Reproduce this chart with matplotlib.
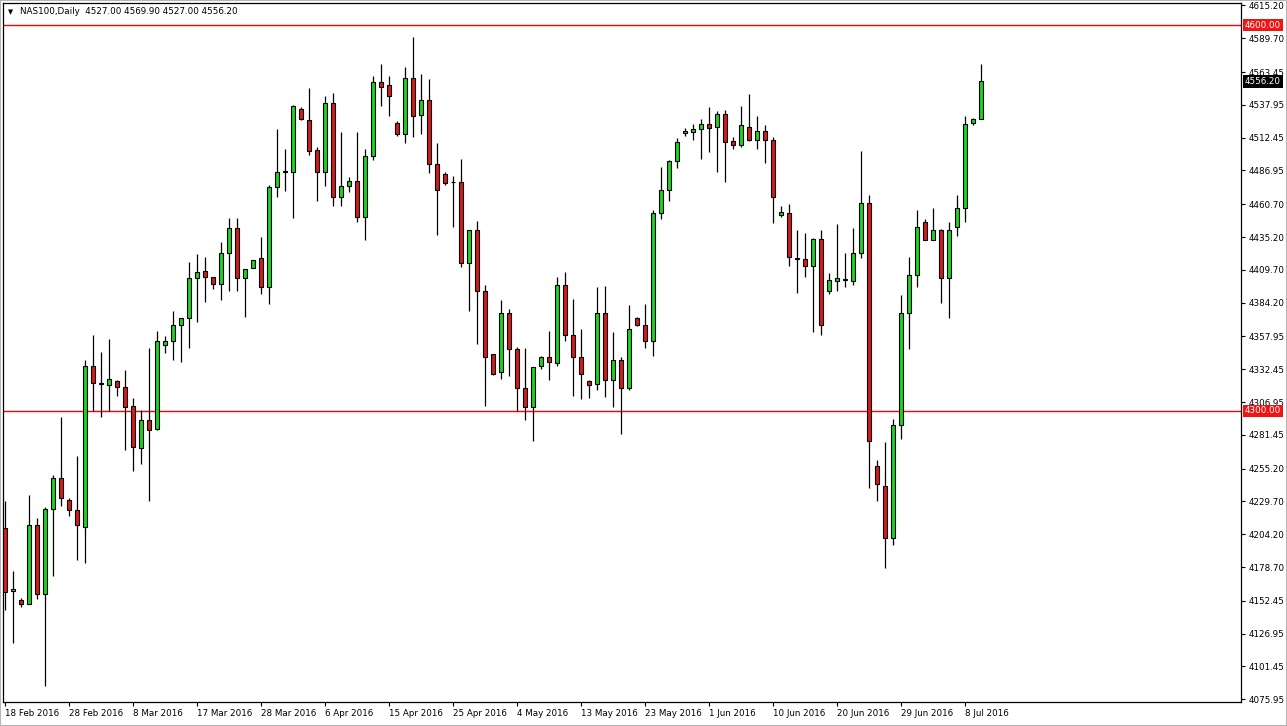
import matplotlib
matplotlib.use('Agg')
import matplotlib.pyplot as plt

# NAS100 daily candles (18 Feb 2016 .. 11 Jul 2016)
opens = [4209, 4160, 4153, 4150, 4211, 4158, 4224, 4248, 4231, 4223,
         4210, 4335, 4321, 4320, 4323, 4319, 4304, 4271, 4293, 4286,
         4351, 4354, 4367, 4372, 4403, 4409, 4404, 4399, 4423, 4442,
         4403, 4411, 4419, 4396, 4474, 4486, 4486, 4535, 4526, 4503,
         4486, 4539, 4466, 4475, 4479, 4451, 4498, 4556, 4553, 4524,
         4515, 4559, 4530, 4542, 4492, 4484, 4478, 4478, 4415, 4441,
         4393, 4344, 4330, 4376, 4348, 4318, 4303, 4335, 4342, 4337,
         4398, 4359, 4342, 4323, 4321, 4376, 4324, 4340, 4318, 4372,
         4367, 4354, 4454, 4472, 4494, 4516, 4517, 4519, 4523, 4521,
         4531, 4510, 4507, 4521, 4511, 4518, 4511, 4452, 4454, 4418.5,
         4418, 4413, 4434, 4393, 4401, 4402, 4401, 4423, 4462, 4257,
         4242, 4201, 4289, 4376, 4406, 4447, 4433, 4441, 4403, 4443,
         4458, 4524, 4527.0]
highs = [4230, 4176, 4155, 4235, 4217, 4225, 4250, 4295, 4232, 4265,
         4340, 4359, 4346, 4356, 4324, 4332, 4310, 4301, 4349, 4362,
         4358, 4378, 4372, 4416, 4422, 4420, 4404.5, 4431, 4450, 4450,
         4410, 4417, 4435, 4476, 4519, 4504, 4538, 4536, 4551, 4505,
         4545, 4547, 4517, 4482, 4517, 4504, 4560, 4570, 4560, 4525,
         4567, 4591, 4562, 4558, 4508, 4486, 4483, 4496, 4441, 4448,
         4398, 4344.5, 4386, 4379, 4350, 4349, 4334.5, 4342.5, 4362, 4404,
         4408, 4387, 4364, 4324, 4396, 4397, 4361, 4342, 4382, 4373,
         4383, 4456, 4490, 4495, 4512, 4520, 4523, 4527, 4536, 4533,
         4534, 4513, 4537, 4546, 4529, 4522, 4513, 4459, 4461, 4441,
         4438, 4434.5, 4441, 4407, 4445, 4423, 4442, 4502, 4468, 4262,
         4276, 4294, 4390, 4420, 4456, 4449, 4458, 4441.5, 4447, 4468,
         4529, 4528, 4569.9]
lows = [4145, 4120, 4148, 4150, 4154, 4086, 4172, 4226, 4218, 4184,
        4182, 4300, 4295, 4300, 4312, 4270, 4253, 4259, 4230, 4285,
        4345, 4340, 4338, 4349, 4369, 4385, 4395, 4386, 4393, 4393,
        4373, 4411, 4391, 4383, 4466, 4471, 4450, 4526, 4499, 4463,
        4475, 4459, 4459, 4470, 4447, 4433, 4495, 4537, 4529, 4514,
        4508, 4513, 4515, 4485, 4437, 4476, 4443, 4412, 4378, 4352,
        4304, 4328, 4325, 4327, 4300, 4293, 4277, 4333, 4324, 4335,
        4354, 4312, 4309, 4310, 4316, 4311, 4303, 4282, 4316, 4366,
        4349, 4343, 4449, 4463, 4489, 4514, 4511, 4496, 4501, 4486,
        4478, 4504, 4505, 4510, 4504, 4493, 4446, 4451, 4413, 4392,
        4404, 4361, 4359, 4391, 4393, 4396, 4398, 4419, 4240, 4230,
        4178, 4196, 4278, 4348, 4396, 4433, 4433, 4384, 4372, 4436,
        4447, 4522, 4527.0]
closes = [4159, 4162, 4150, 4211, 4158, 4224, 4248, 4232, 4223, 4211,
          4335, 4322, 4321, 4325, 4319, 4303, 4272, 4293, 4285, 4354,
          4354, 4367, 4372, 4403, 4408, 4404, 4399, 4423, 4442, 4403,
          4410, 4417, 4396, 4474, 4486, 4486.5, 4537, 4527, 4502, 4486,
          4539, 4466, 4475, 4479, 4451, 4498, 4556, 4552, 4545, 4515,
          4559, 4529, 4542, 4492, 4472, 4477, 4477.6, 4415, 4441, 4393,
          4342, 4329, 4376, 4348, 4318, 4303, 4334, 4342, 4338, 4398,
          4359, 4342, 4329, 4320, 4376, 4324, 4340, 4318, 4364, 4367,
          4354, 4454, 4472, 4494, 4509, 4518, 4519, 4523, 4520, 4531,
          4509, 4507, 4522, 4511, 4518, 4511, 4466, 4455, 4420, 4418.5,
          4413, 4434, 4367, 4402, 4403, 4402, 4423, 4462, 4277, 4243,
          4201, 4289, 4376, 4406, 4443, 4433, 4441, 4403, 4441, 4458,
          4523, 4527, 4556.2]

date_labels = ['18 Feb 2016', '28 Feb 2016', '8 Mar 2016', '17 Mar 2016',
               '28 Mar 2016', '6 Apr 2016', '15 Apr 2016', '25 Apr 2016',
               '4 May 2016', '13 May 2016', '23 May 2016', '1 Jun 2016',
               '10 Jun 2016', '20 Jun 2016', '29 Jun 2016', '8 Jul 2016']
label_step = 8

price_ticks = [4615.20, 4589.70, 4563.45, 4537.95, 4512.45, 4486.95, 4460.70,
               4435.20, 4409.70, 4384.20, 4357.95, 4332.45, 4306.95, 4281.45,
               4255.20, 4229.70, 4204.20, 4178.70, 4152.45, 4126.95, 4101.45,
               4075.95]
levels = [4600.00, 4300.00]
last_price = 4556.20

FS = 6.3
W, H = 1287, 726
fig = plt.figure(figsize=(W / 100, H / 100), dpi=100)
fig.patch.set_facecolor('white')
ax = fig.add_axes([3 / W, 1 - 702 / H, 1238 / W, 699 / H])

n = len(opens)
xs = list(range(n))
up = [c >= o for o, c in zip(opens, closes)]
body_bottom = [min(o, c) for o, c in zip(opens, closes)]
body_height = [max(abs(c - o), 0.4) for o, c in zip(opens, closes)]
colors = ['#22d022' if u else '#d41c1c' for u in up]

ax.vlines(xs, lows, highs, color='black', lw=0.9, zorder=2)
ax.bar(xs, body_height, bottom=body_bottom, width=0.6, color=colors,
       edgecolor='black', linewidth=0.8, zorder=3)

for lv in levels:
    ax.axhline(lv, color='red', lw=1.0, zorder=1)

ax.set_xlim(-0.25, 154.5)
ax.set_ylim(4073.8, 4617.1)

ax.yaxis.tick_right()
ax.set_yticks(price_ticks)
ax.set_yticklabels([f'{v:.2f}' for v in price_ticks])
ax.tick_params(axis='y', direction='out', length=3, width=0.8, pad=2.5,
               labelsize=FS, colors='black')

xt = list(range(0, n, label_step))
ax.set_xticks(xt)
ax.set_xticklabels(date_labels[:len(xt)], ha='left')
ax.tick_params(axis='x', direction='out', length=3, width=0.8, pad=2,
               labelsize=FS)

for sp in ax.spines.values():
    sp.set_linewidth(0.9)
    sp.set_color('black')

# price tags on the right scale
ytr = ax.get_yaxis_transform()
for lv in levels:
    ax.annotate(f'{lv:.2f}', xy=(1, lv), xycoords=ytr, xytext=(2.8, 0),
                textcoords='offset points', ha='left', va='center',
                fontsize=FS, color='white', zorder=10, annotation_clip=False,
                bbox=dict(boxstyle='square,pad=0.2', fc='#f01414', ec='none'))
ax.annotate(f'{last_price:.2f}', xy=(1, last_price), xycoords=ytr,
            xytext=(2.8, 0), textcoords='offset points', ha='left', va='center',
            fontsize=FS, color='white', zorder=10, annotation_clip=False,
            bbox=dict(boxstyle='square,pad=0.2', fc='black', ec='none'))

# header
header = (f'NAS100,Daily  {opens[-1]:.2f} {highs[-1]:.2f} '
          f'{lows[-1]:.2f} {closes[-1]:.2f}')
ax.text(0.004, 0.991, '\u25bc', transform=ax.transAxes, fontsize=4.8,
        va='top', ha='left')
ax.text(0.014, 0.994, header, transform=ax.transAxes, fontsize=FS,
        va='top', ha='left')

# thin grey outer frame like the terminal window
fig.add_artist(plt.Rectangle((0, 0), 1, 1, transform=fig.transFigure,
                             fill=False, ec='#b4b4b4', lw=1.5))

fig.savefig('out.png', dpi=100, facecolor='white')
